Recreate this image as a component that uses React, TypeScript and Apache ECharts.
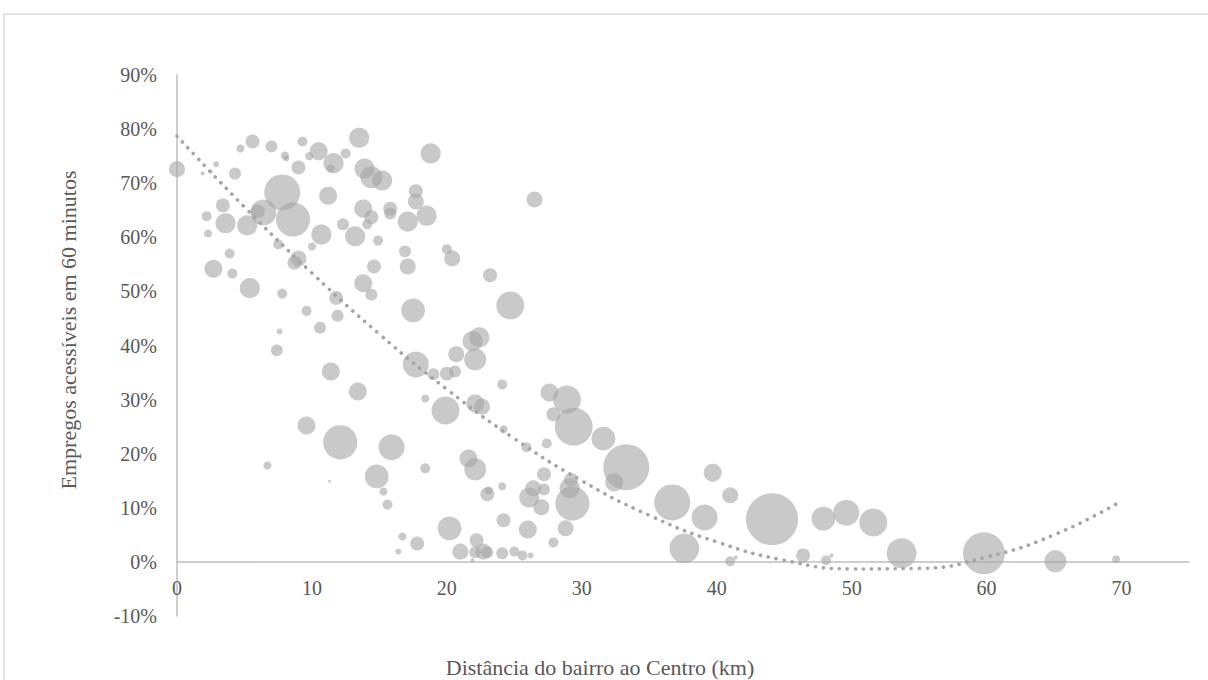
import React, { useEffect, useRef } from "react";
import * as echarts from "echarts";

// Distância do bairro ao Centro (km)
const distanciaKm = [
  0, 5.6, 4.7, 7.0, 9.3, 8.0, 8.1, 9.0, 9.8, 10.5, 11.6, 11.4, 12.5, 13.5, 2.9, 1.9, 2.5, 4.3,
  11.2, 7.8, 8.6, 6.4, 6.0, 3.4, 2.2, 3.6, 5.2, 2.3, 10.7, 12.3, 13.2, 7.5, 10.0, 9.0, 8.7, 3.9,
  2.7, 4.1, 5.4, 7.8, 11.8, 9.6, 11.9, 10.6, 7.6, 7.4, 11.4, 13.4, 9.6, 12.1, 6.7, 11.3, 13.9, 14.4,
  15.2, 18.8, 17.7, 17.7, 13.8, 14.4, 15.8, 15.8, 18.5, 17.1, 14.1, 14.9, 16.9, 20.0, 20.4, 26.5,
  14.6, 17.1, 23.2, 13.8, 14.4, 17.5, 24.7, 21.9, 22.4, 22.1, 20.7, 17.7, 19.0, 20.0, 20.6, 24.1,
  18.4, 19.9, 22.1, 22.6, 24.2, 25.9, 15.9, 18.4, 21.6, 22.1, 14.8, 15.3, 15.6, 23.0, 23.1, 24.1,
  26.1, 24.2, 26.0, 20.2, 16.7, 17.8, 16.4, 22.2, 21.0, 22.1, 22.7, 23.0, 21.9, 24.1, 25.0, 25.6,
  26.2, 27.6, 28.9, 27.9, 29.4, 31.6, 27.4, 33.3, 32.4, 39.7, 27.2, 29.2, 29.1, 26.4, 27.2, 27.0,
  29.3, 36.7, 39.1, 28.8, 27.9, 37.6, 41.0, 44.1, 47.9, 49.6, 51.6, 53.7, 41.0, 41.4, 46.4, 48.1,
  48.5, 59.8, 65.1, 69.6,
];

// Empregos acessíveis em 60 minutos (%)
const empregosPct = [
  72.6, 77.7, 76.4, 76.8, 77.7, 75.1, 74.6, 72.9, 75.0, 75.9, 73.7, 72.7, 75.5, 78.4, 73.5, 71.8, 72.1, 71.8,
  67.7, 68.3, 63.3, 64.6, 64.8, 65.9, 63.9, 62.6, 62.2, 60.7, 60.5, 62.4, 60.2, 58.7, 58.3, 56.1, 55.3, 57.0,
  54.2, 53.3, 50.6, 49.6, 48.8, 46.4, 45.5, 43.3, 42.6, 39.1, 35.2, 31.5, 25.2, 22.1, 17.8, 14.9, 72.7, 71.1,
  70.5, 75.5, 68.5, 66.6, 65.3, 63.7, 65.3, 64.4, 64.0, 62.9, 62.4, 59.4, 57.4, 57.8, 56.1, 67.0,
  54.6, 54.6, 53.0, 51.5, 49.4, 46.5, 47.4, 40.8, 41.5, 37.4, 38.4, 36.5, 34.7, 34.8, 35.2, 32.8,
  30.2, 28.0, 29.3, 28.7, 24.5, 21.2, 21.2, 17.3, 19.1, 17.1, 15.8, 13.0, 10.6, 12.5, 13.2, 14.0,
  11.9, 7.7, 6.0, 6.2, 4.7, 3.4, 1.9, 4.0, 1.9, 1.8, 1.9, 1.8, 0.3, 1.6, 1.9, 1.2,
  1.2, 31.3, 30.0, 27.3, 25.0, 22.8, 21.9, 17.5, 14.7, 16.5, 16.2, 15.2, 13.6, 13.6, 13.4, 10.1,
  10.8, 11.0, 8.2, 6.2, 3.6, 2.5, 12.3, 7.9, 8.0, 9.1, 7.3, 1.6, 0.1, 0.8, 1.2, 0.3,
  1.2, 1.6, 0.1, 0.5,
];

// Tamanho relativo da bolha
const pesoBolha = [
  9.5, 7.2, 2.4, 5.3, 3.7, 2.4, 1.3, 7.2, 2.4, 12, 15, 2.4, 3.7, 15, 1.3, 0.6, 0.6, 5.3,
  12, 48, 43, 25, 7.2, 7.2, 3.7, 15, 15, 2.4, 15, 5.3, 15, 3.7, 2.4, 9.5, 7.2, 3.7,
  12, 3.7, 15, 3.7, 7.2, 3.7, 5.3, 5.3, 1.3, 5.3, 12, 12, 12, 43, 2.4, 0.33, 15, 18,
  15, 15, 7.2, 9.5, 12, 7.2, 7.2, 5.3, 15, 15, 3.7, 3.7, 5.3, 3.7, 9.5, 9.5,
  7.2, 9.5, 7.2, 12, 5.3, 21, 29, 15, 15, 18, 9.5, 25, 5.3, 7.2, 5.3, 3.7,
  2.4, 29, 12, 9.5, 2.4, 3.7, 25, 3.7, 12, 18, 21, 2.4, 3.7, 7.2, 2.4, 2.4,
  15, 7.2, 12, 21, 2.4, 7.2, 1.3, 7.2, 9.5, 5.3, 9.5, 5.3, 0.6, 5.3, 3.7, 3.7,
  1.3, 12, 29, 7.2, 53, 21, 3.7, 78, 12, 12, 7.2, 7.2, 15, 9.5, 5.3, 9.5,
  43, 48, 25, 9.5, 3.7, 33, 9.5, 100, 21, 25, 29, 33, 3.7, 0.6, 7.2, 3.7,
  0.6, 65, 18, 2.4,
];

// Linha de tendência (polinomial)
const tendenciaKm = [0, 5, 10, 15, 20, 25, 30, 35, 40, 45, 50, 55, 60, 65, 69.6];
const tendenciaPct = [78.7, 65.6, 53.4, 42.1, 31.9, 22.8, 15.0, 8.6, 3.7, 0.3, -1.3, -1.2, 0.9, 5.0, 10.7];

const xTicks = [0, 10, 20, 30, 40, 50, 60, 70];
const yTicks = [-10, 0, 10, 20, 30, 40, 50, 60, 70, 80, 90];

const tituloX = "Distância do bairro ao Centro (km)";
const tituloY = "Empregos acessíveis em 60 minutos";

const FONT = "'Liberation Serif', 'Times New Roman', serif";
const TEXT = "#595959";

export default function App() {
  const ref = useRef<HTMLDivElement>(null);

  useEffect(() => {
    if (!ref.current) return;
    const chart = echarts.init(ref.current, undefined, { renderer: "svg" });

    const bubbles = distanciaKm.map((x, i) => [x, empregosPct[i], pesoBolha[i]]);
    const trend = tendenciaKm.map((x, i) => [x, tendenciaPct[i]]);

    chart.setOption({
      animation: false,
      backgroundColor: "#ffffff",
      grid: { left: 177, right: 19, top: 75, bottom: 64, containLabel: false },
      xAxis: {
        type: "value",
        min: 0,
        max: 75,
        interval: 10,
        splitLine: { show: false },
        axisTick: { show: false },
        axisLine: { onZero: true, lineStyle: { color: "#BFBFBF", width: 1.5 } },
        axisLabel: {
          showMaxLabel: false,
          margin: -38,
          color: TEXT,
          fontFamily: FONT,
          fontSize: 20,
          formatter: (v: number) => (xTicks.includes(v) ? String(v) : ""),
        },
      },
      yAxis: {
        type: "value",
        min: yTicks[0],
        max: yTicks[yTicks.length - 1],
        interval: 10,
        splitLine: { show: false },
        axisTick: { show: false },
        axisLine: { show: true, lineStyle: { color: "#BFBFBF", width: 1.5 } },
        axisLabel: {
          margin: 20,
          color: TEXT,
          fontFamily: FONT,
          fontSize: 20,
          formatter: (v: number) => `${v}%`,
        },
      },
      graphic: [
        {
          type: "rect",
          silent: true,
          z: -10,
          shape: { x: 4, y: 14, width: 1400, height: 900 },
          style: { fill: "none", stroke: "#D9D9D9", lineWidth: 1.5 },
        },
        {
          type: "text",
          x: 600,
          y: 667,
          style: {
            text: tituloX,
            fill: TEXT,
            font: `22px ${FONT}`,
            textAlign: "center",
            textVerticalAlign: "middle",
          },
        },
        {
          type: "text",
          x: 68,
          y: 330,
          rotation: Math.PI / 2,
          style: {
            text: tituloY,
            fill: TEXT,
            font: `22px ${FONT}`,
            textAlign: "center",
            textVerticalAlign: "middle",
          },
        },
      ],
      series: [
        {
          type: "scatter",
          data: bubbles,
          symbolSize: (val: number[]) => Math.sqrt(val[2]) * 5.2,
          itemStyle: { color: "rgba(165,165,165,0.75)", borderWidth: 0 },
          z: 2,
        },
        {
          type: "line",
          data: trend,
          smooth: true,
          showSymbol: false,
          symbol: "none",
          lineStyle: { color: "#A5A5A5", width: 3.6, type: [0.1, 7.9], cap: "round" },
          z: 3,
        },
      ],
    });

    return () => chart.dispose();
  }, []);

  return (
    <div
      ref={ref}
      style={{ position: "fixed", left: 0, top: 0, width: 1208, height: 680, background: "#fff" }}
    />
  );
}
